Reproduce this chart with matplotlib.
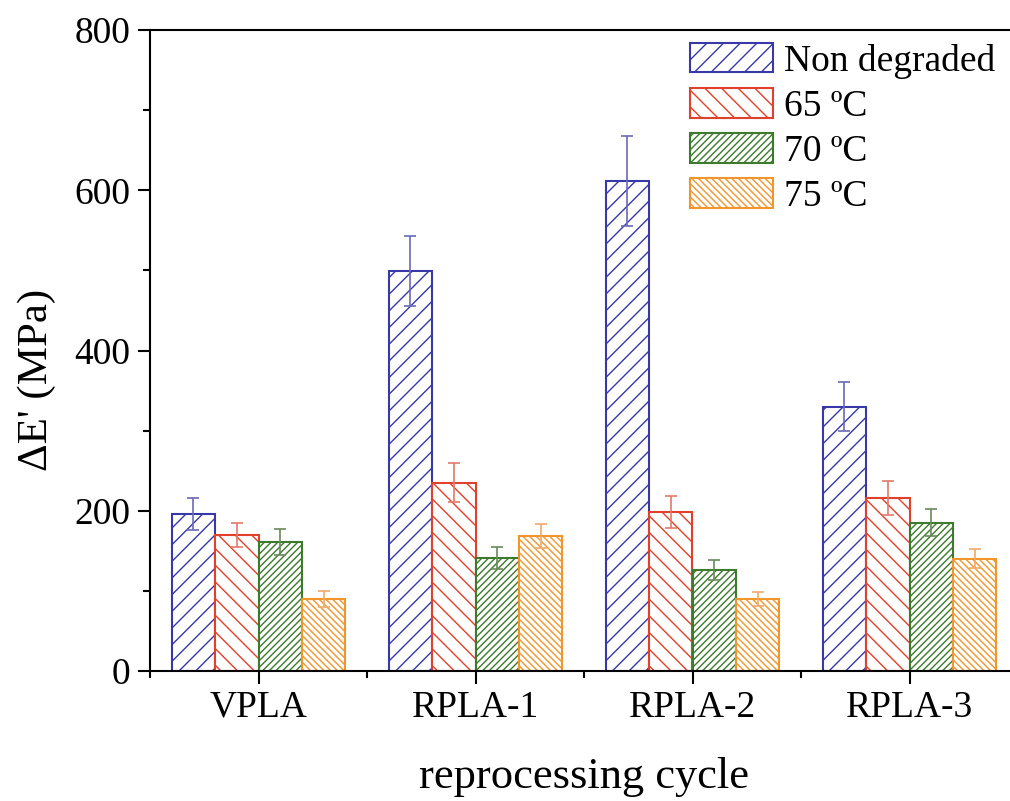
import matplotlib
matplotlib.use("Agg")
import matplotlib.pyplot as plt
import numpy as np
from matplotlib.ticker import MultipleLocator

plt.rcParams['font.family'] = ['Liberation Serif', 'DejaVu Serif']
plt.rcParams['hatch.linewidth'] = 1.0

# datos
ciclos = ["VPLA", "RPLA-1", "RPLA-2", "RPLA-3"]
series = ["Non degraded", "65 ºC", "70 ºC", "75 ºC"]
non_degraded = [196, 499, 612, 330]
non_degraded_err = [20, 44, 56, 31]
t65 = [170, 235, 199, 216]
t65_err = [15, 24, 20, 21]
t70 = [161, 141, 126, 185]
t70_err = [16, 14, 13, 17]
t75 = [90, 168, 90, 140]
t75_err = [10, 15, 9, 12]

valores = [non_degraded, t65, t70, t75]
errores = [non_degraded_err, t65_err, t70_err, t75_err]
colores = ["#3838a8", "#e0402c", "#3c7a2c", "#f0962c"]
errcolores = ["#6a6ab8", "#e07a6a", "#6a8a5a", "#f0aa6a"]
tramas = ["//", "\\\\", "/////", "\\\\\\\\\\"]

fig = plt.figure(figsize=(10.1, 8.01), dpi=100)
ax = fig.add_axes([150/1010, 130/801, 868/1010, 641/801])

x = np.arange(len(ciclos))
ancho = 0.2
for i in range(4):
    pos = x + (i - 1.5) * ancho
    ax.bar(pos, valores[i], ancho, facecolor="white", edgecolor=colores[i],
           hatch=tramas[i], linewidth=1.5, label=series[i], zorder=2)
    ax.errorbar(pos, valores[i], yerr=errores[i], fmt="none", ecolor=errcolores[i],
                elinewidth=1.2, capsize=4.5, capthick=1.2, zorder=3)

ax.set_xlim(-0.5, 3.5)
ax.set_ylim(0, 800)
ax.set_xticks(x)
ax.set_xticklabels(ciclos)
ax.xaxis.set_minor_locator(MultipleLocator(0.5))
ax.yaxis.set_major_locator(MultipleLocator(200))
ax.yaxis.set_minor_locator(MultipleLocator(100))
ax.tick_params(which="major", direction="out", length=9, width=1.5, labelsize=27, pad=5)
ax.tick_params(which="minor", direction="out", length=5, width=1.5)
for s in ax.spines.values():
    s.set_linewidth(1.5)

ax.set_ylabel("ΔE' (MPa)", fontsize=31)
ax.yaxis.set_label_coords(-0.108, 0.454)
ax.set_xlabel("reprocessing cycle", fontsize=32, labelpad=23)

ax.legend(loc="upper left", bbox_to_anchor=(690/1010, 1 - 43/801),
          bbox_transform=fig.transFigure, frameon=False, fontsize=27,
          handlelength=2.2, handleheight=0.83, labelspacing=0.25, handletextpad=0.3,
          borderaxespad=0, borderpad=0)

fig.savefig("out.png", dpi=100)
